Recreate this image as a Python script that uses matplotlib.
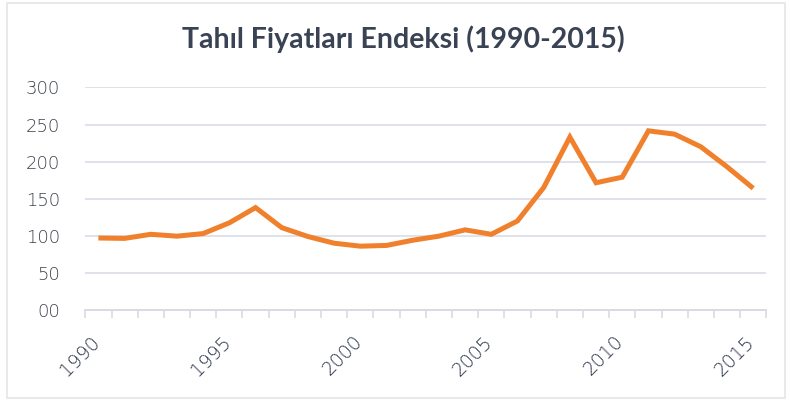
import matplotlib
matplotlib.use("Agg")
import matplotlib.pyplot as plt
from matplotlib.patches import Rectangle
from matplotlib.transforms import ScaledTranslation

years = list(range(1990, 2016))
values = [97, 96.5, 102, 99.5, 103, 117.5, 138, 111, 99, 90, 86, 87, 94, 99.5,
          108, 102, 120, 165, 233, 171.5, 179, 241.5, 237, 220, 193, 164]
ytick_vals = [0, 50, 100, 150, 200, 250, 300]
ytick_labels = ["00", "50", "100", "150", "200", "250", "300"]
xtick_labels = ["1990", "1995", "2000", "2005", "2010", "2015"]
title = "Tahıl Fiyatları Endeksi (1990-2015)"

plt.rcParams['font.family'] = ['Lato', 'DejaVu Sans']

fig = plt.figure(figsize=(7.90, 4.01), dpi=100)
ax = fig.add_axes([0.108, 0.227, 0.862, 0.555])

x = list(range(len(years)))
ax.plot(x, values, color="#f0802c", linewidth=3.6, solid_joinstyle="miter",
        solid_capstyle="butt", zorder=3)

ax.set_xlim(-0.5, len(years) - 0.5)
ax.set_ylim(0, 300)

tickfont = dict(family=["DejaVu Sans"], weight="light")

ax.set_yticks(ytick_vals)
ax.set_yticklabels(ytick_labels, fontsize=13, color="#3c414a", **tickfont)
ax.tick_params(axis="y", length=0, pad=18)
ax.grid(axis="y", color="#dfe2ea", linewidth=1.4, zorder=0)

major_pos = [years.index(int(t)) for t in xtick_labels]
ax.set_xticks(major_pos)
ax.set_xticklabels(xtick_labels, rotation=45, ha="right", va="top",
                   rotation_mode="anchor", fontsize=13.5, color="#263044",
                   **tickfont)
ax.set_xticks([i - 0.5 for i in range(len(years) + 1)], minor=True)
ax.tick_params(axis="x", which="major", length=0, pad=16)
ax.tick_params(axis="x", which="minor", length=6, width=1.2, color="#d8dbe3")
off = ScaledTranslation(-8 / 100, 0, fig.dpi_scale_trans)
for lbl in ax.get_xticklabels():
    lbl.set_transform(lbl.get_transform() + off)

for s in ["top", "right", "left"]:
    ax.spines[s].set_visible(False)
ax.spines["bottom"].set_color("#d8dbe3")
ax.spines["bottom"].set_linewidth(1.4)

fig.text(0.51, 0.902, title, ha="center", va="center", fontsize=20.5,
         color="#3a4354", fontweight="bold")

fig.patches.append(Rectangle((0.009, 0.008), 0.985, 0.985, transform=fig.transFigure,
                             fill=False, edgecolor="#e3e5ea", linewidth=1.2))

fig.savefig("out.png", dpi=100)
